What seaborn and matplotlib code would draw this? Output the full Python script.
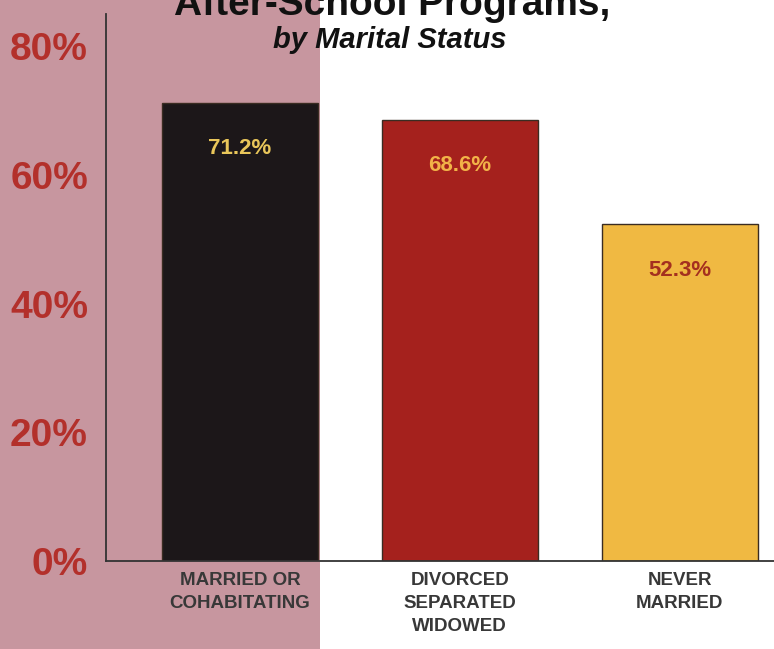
import matplotlib
matplotlib.use('Agg')
import matplotlib.pyplot as plt
from matplotlib.patches import Rectangle
import pandas as pd
import seaborn as sns

sns.set_style('white')
plt.rcParams['font.family'] = ['Liberation Sans', 'DejaVu Sans']

# data
categories = ['MARRIED OR\nCOHABITATING', 'DIVORCED\nSEPARATED\nWIDOWED', 'NEVER\nMARRIED']
values = [71.2, 68.6, 52.3]
value_labels = ['71.2%', '68.6%', '52.3%']
y_ticks = [0, 20, 40, 60, 80]
y_tick_labels = ['0%', '20%', '40%', '60%', '80%']

bar_colors = ['#1c1719', '#a5211d', '#f0b942']
label_colors = ['#e9c65a', '#f2b348', '#a4301f']
narrow = ['Liberation Sans Narrow', 'Liberation Sans', 'DejaVu Sans']

df = pd.DataFrame({'status': categories, 'pct': values})

fig = plt.figure(figsize=(7.74, 6.49), dpi=100)
fig.patch.set_facecolor('white')
# pink panel on the left
fig.patches.append(Rectangle((0, 0), 320/774, 1, transform=fig.transFigure,
                             facecolor='#c7969f', edgecolor='none', zorder=-1))

ax = fig.add_axes([106/774, 88/649, 668/774, 547/649])
ax.patch.set_alpha(0)
sns.barplot(data=df, x='status', y='pct', hue='status', palette=bar_colors,
            saturation=1, legend=False, width=0.71, edgecolor='#3a2c22',
            linewidth=1.0, ax=ax)

ax.set_xlim(-0.61, 2.43)
ax.set_ylim(0, 85)
ax.set_yticks(y_ticks)
ax.set_yticklabels(y_tick_labels, color='#b3302b', fontsize=28, fontweight='bold')
ax.tick_params(axis='y', direction='in', length=30, width=1.3, color='#333333', pad=13)
ax.tick_params(axis='x', length=0, pad=8)
ax.set_xticks(range(len(categories)))
ax.set_xticklabels(categories, fontsize=13.5, fontweight='bold', color='#383838',
                   family=narrow, linespacing=1.45, va='top')
ax.set_xlabel('')
ax.set_ylabel('')

for side in ['top', 'right']:
    ax.spines[side].set_visible(False)
for side in ['left', 'bottom']:
    ax.spines[side].set_color('#333333')
    ax.spines[side].set_linewidth(1.3)

for i, (v, lab) in enumerate(zip(values, value_labels)):
    ax.annotate(lab, (i, v), xytext=(0, -33), textcoords='offset points',
                ha='center', va='center', fontsize=16, fontweight='bold',
                color=label_colors[i], family=narrow)

fig.text(392/774, 1 - 15/649, 'After-School Programs,', ha='center', va='baseline',
         fontsize=28, fontweight='bold', color='#111111', family=narrow)
fig.text(390/774, 1 - 40/649, 'by Marital Status', ha='center', va='center',
         fontsize=21, fontweight='bold', style='italic', color='#111111', family=narrow)

fig.savefig('out.png', dpi=100)
